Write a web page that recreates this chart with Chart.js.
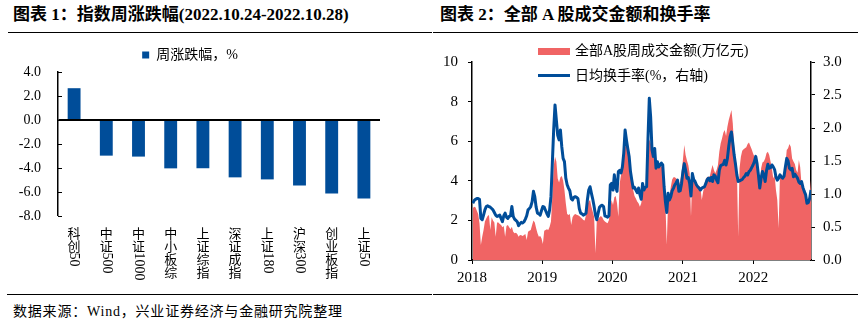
<!DOCTYPE html>
<html>
<head>
<meta charset="utf-8">
<script src="https://cdn.jsdelivr.net/npm/chart.js@4.4.0/dist/chart.umd.min.js"></script>
<style>
  body{margin:0;width:866px;height:322px;position:relative;overflow:hidden;background:#fff;
       font-family:'Liberation Serif','Noto Sans CJK SC',serif;color:#000}
  .title{position:absolute;top:5px;font-size:17px;font-weight:bold;line-height:20px;white-space:nowrap}
  .rule{position:absolute;height:0;border-top:1.5px solid #000}
  .box{position:absolute;top:36px;width:433px;height:256px}
  .lg{position:absolute;font-size:14px;line-height:16px;white-space:nowrap}
  .sw{position:absolute}
  .src{position:absolute;left:13px;top:300px;font-size:14px;letter-spacing:0.8px;white-space:nowrap}
</style>
</head>
<body>
<div class="title" style="left:13px">图表 1：指数周涨跌幅(2022.10.24-2022.10.28)</div>
<div class="title" style="left:440px">图表 2：全部 A 股成交金额和换手率</div>
<div class="rule" style="left:8px;width:424px;top:32px"></div>
<div class="rule" style="left:433px;width:425px;top:32px"></div>

<div class="box" style="left:0"><canvas id="left" width="433" height="256"></canvas></div>
<div class="box" style="left:433px"><canvas id="right" width="433" height="256"></canvas></div>

<div class="sw" style="left:538px;top:48px;width:32px;height:7px;background:#F06464"></div>
<div class="lg" style="left:575px;top:43px">全部A股周成交金额(万亿元)</div>
<div class="sw" style="left:538px;top:74px;width:32px;height:3px;background:#004D99"></div>
<div class="lg" style="left:575px;top:68px">日均换手率(%，右轴)</div>

<div class="rule" style="left:7px;width:425px;top:294px"></div>
<div class="rule" style="left:433px;width:425px;top:294px"></div>
<div class="src">数据来源：Wind，兴业证券经济与金融研究院整理</div>

<script>
// ---- chart 1 data
const indexNames = ['科创50','中证500','中证1000','中小板综','上证综指','深证成指','上证180','沪深300','创业板指','上证50'];
const weeklyChange = [2.65,-2.97,-3.05,-4.03,-4.02,-4.78,-4.95,-5.45,-6.12,-6.55];
const changeTicks = [-8,-6,-4,-2,0,2,4];

// ---- chart 2 data (weekly, first week ends 2018-01-05)
const firstWeek = Date.UTC(2018,0,5);
const amount = [ // 全部A股周成交金额, 万亿元
  2.61,2.69,2.66,2.49,2.32,1.85,0.76,1.18,1.52,1.94,2.10,2.22,2.27,
  1.52,2.16,1.99,1.89,1.18,1.89,1.89,1.82,1.77,1.65,1.72,1.18,1.72,
  1.77,1.65,1.55,1.68,1.43,1.35,1.38,1.31,1.18,1.26,1.25,1.21,1.26,
  1.31,1.01,1.43,1.48,1.52,1.77,1.99,1.89,1.60,1.35,1.18,1.21,1.09,
  0.81,1.48,1.52,1.55,1.52,1.68,1.94,3.20,4.71,5.22,4.97,4.12,3.91,
  4.18,4.24,4.01,3.53,2.86,2.32,2.27,2.32,1.77,2.16,2.27,2.32,2.29,
  2.26,2.22,2.16,2.10,2.02,1.99,2.27,2.78,2.95,3.03,2.69,2.44,2.19,
  0.34,1.99,2.05,2.16,2.22,2.16,2.02,1.94,1.89,1.85,2.02,2.61,3.03,
  2.78,3.17,3.23,2.86,2.19,3.87,4.29,4.71,5.22,5.72,5.86,5.47,5.05,
  4.46,4.12,3.53,3.23,3.11,2.95,2.86,2.69,2.86,3.37,3.53,3.62,3.70,
  5.22,6.10,5.90,5.64,5.39,5.22,4.68,4.88,4.85,4.80,4.75,4.63,3.53,
  2.78,0.76,3.03,3.20,3.70,4.07,4.18,4.18,4.12,4.04,3.84,3.96,4.38,
  5.05,5.81,5.30,5.02,4.80,4.38,2.19,4.46,4.21,4.04,3.87,3.79,3.74,
  3.67,3.03,3.45,3.79,4.07,4.21,4.18,4.24,4.55,4.80,4.55,4.38,4.55,
  4.80,5.47,5.89,6.14,6.43,6.57,6.26,6.73,7.07,7.32,7.58,6.90,5.72,
  5.05,4.80,1.18,4.63,5.22,5.52,5.59,5.64,5.69,5.86,5.93,5.76,5.59,
  5.39,5.22,4.97,4.75,4.55,3.53,4.63,4.92,4.97,5.13,5.39,5.47,5.30,
  4.97,4.63,4.12,4.29,3.53,3.03,1.60,4.38,4.18,4.07,4.18,4.80,5.55,
  5.64,5.86,5.72,5.13,4.97,4.85,4.55,4.41,5.05,4.68,3.79,3.53,3.37,
  3.20,3.03,3.11,3.23,4.04
];
const turnover = [ // 日均换手率, %
  0.86,0.90,0.92,0.93,0.93,0.92,0.63,0.61,0.68,0.76,0.81,0.82,0.81,
  0.80,0.78,0.76,0.72,0.68,0.66,0.67,0.68,0.63,0.58,0.67,0.71,0.65,
  0.63,0.66,0.67,0.81,0.66,0.62,0.60,0.58,0.52,0.55,0.57,0.56,0.58,
  0.62,0.67,0.76,0.78,0.81,0.88,1.04,0.96,0.80,0.71,0.70,0.68,0.75,
  0.81,0.80,0.75,0.70,0.66,0.76,0.96,1.46,1.97,2.35,2.12,1.89,1.82,
  1.97,1.72,1.54,1.49,1.24,1.14,1.09,1.05,0.93,0.91,0.95,0.96,0.95,
  0.93,0.78,0.71,0.70,0.68,0.69,0.71,0.91,1.06,1.11,1.01,0.92,0.81,
  0.68,0.61,0.71,0.80,0.82,0.83,0.81,0.67,0.66,0.65,0.67,1.14,1.16,
  1.06,1.29,1.11,1.04,1.34,1.36,1.32,1.41,1.62,1.97,1.82,1.69,1.57,
  1.34,1.21,1.09,1.10,1.06,1.02,1.09,0.99,0.92,1.16,1.06,1.10,1.11,
  1.82,2.45,2.17,1.67,1.57,1.69,1.39,1.49,1.41,1.44,1.47,1.44,1.11,
  0.88,0.72,1.01,0.91,0.96,1.05,1.09,1.14,1.17,1.21,1.04,1.05,1.16,
  1.34,1.46,1.36,1.24,1.25,1.16,0.97,1.31,1.22,1.19,1.14,1.11,1.09,
  1.06,1.09,1.10,1.11,1.16,1.22,1.24,1.20,1.25,1.19,1.29,1.27,1.21,
  1.17,1.36,1.43,1.44,1.45,1.51,1.44,1.54,1.72,1.87,1.94,1.77,1.59,
  1.45,1.29,1.19,1.20,1.21,1.22,1.25,1.27,1.31,1.29,1.34,1.36,1.40,
  1.44,1.49,1.57,1.46,1.29,1.09,1.24,1.34,1.29,1.19,1.35,1.45,1.39,
  1.40,1.44,1.41,1.37,1.26,1.21,1.24,1.29,1.26,1.24,1.27,1.41,1.54,
  1.50,1.39,1.37,1.39,1.26,1.30,1.27,1.24,1.18,1.16,1.19,1.10,1.04,
  0.99,0.86,0.87,0.93,1.06
];
const yearTicks = [2018,2019,2020,2021,2022];
const amountTicks = [0,2,4,6,8,10];
const turnoverTicks = [0,0.5,1,1.5,2,2.5,3];

const SERIF = "'Liberation Serif', 'Noto Sans CJK SC', serif";
const BLUE = '#004D99';
const RED = '#F06464';

// week index -> decimal year for the linear x axis
function weekToYear(i){
  const t = firstWeek + i*7*864e5;
  const y = new Date(t).getUTCFullYear();
  const y0 = Date.UTC(y,0,1), y1 = Date.UTC(y+1,0,1);
  return y + (t - y0)/(y1 - y0);
}

// vertical category labels: CJK chars stacked, digit runs rotated
const verticalLabels = {
  id: 'verticalLabels',
  afterDraw(chart){
    const {ctx} = chart;
    const x = chart.scales.x;
    ctx.save();
    ctx.fillStyle = '#000';
    chart.data.labels.forEach((label, i) => {
      const cx = x.getPixelForTick(i);
      let y = x.top + 11;
      for(const part of label.match(/\d+|./g)){
        if(/\d/.test(part)){
          ctx.font = "14px 'Liberation Serif'";
          ctx.save();
          ctx.translate(cx, y);
          ctx.rotate(Math.PI/2);
          ctx.textAlign = 'left';
          ctx.textBaseline = 'middle';
          ctx.fillText(part, 0, 0);
          ctx.restore();
          y += ctx.measureText(part).width;
        }else{
          ctx.font = "13px 'Noto Sans CJK SC'";
          ctx.textAlign = 'center';
          ctx.textBaseline = 'top';
          ctx.fillText(part, cx, y);
          y += 12.7;
        }
      }
    });
    ctx.restore();
  }
};

// small inside tick marks on the left value axis
const innerTicks = {
  id: 'innerTicks',
  afterDraw(chart){
    const {ctx} = chart;
    const y = chart.scales.y;
    ctx.save();
    ctx.strokeStyle = '#000';
    ctx.lineWidth = 1;
    y.ticks.forEach((t, i) => {
      const py = Math.round(y.getPixelForTick(i)) + 0.5;
      ctx.beginPath();
      ctx.moveTo(y.right, py);
      ctx.lineTo(y.right + 4, py);
      ctx.stroke();
    });
    ctx.restore();
  }
};

new Chart(document.getElementById('left'), {
  type: 'bar',
  data: {
    labels: indexNames,
    datasets: [{
      label: '周涨跌幅，%',
      data: weeklyChange,
      backgroundColor: BLUE,
      barPercentage: 0.4,
      categoryPercentage: 1
    }]
  },
  options: {
    responsive: false,
    animation: false,
    devicePixelRatio: 1,
    layout: { padding: { top: 2, right: 53, left: 0, bottom: 0 } },
    plugins: {
      legend: {
        position: 'top',
        labels: { boxWidth: 7, boxHeight: 7, color: '#000', font: { family: SERIF, size: 14 } }
      },
      tooltip: { enabled: false }
    },
    scales: {
      x: {
        grid: { display: false },
        border: { display: false },
        ticks: { display: false },
        afterFit(s){ s.height = 76; }
      },
      y: {
        min: -8, max: 4,
        afterBuildTicks(s){ s.ticks = changeTicks.map(v => ({ value: v })); },
        afterFit(s){ s.width = 58; },
        border: { display: true, color: '#000', width: 1.5 },
        grid: {
          drawTicks: false,
          color: c => c.tick && c.tick.value === 0 ? '#000' : 'rgba(0,0,0,0)',
          lineWidth: c => c.tick && c.tick.value === 0 ? 2 : 0
        },
        ticks: {
          padding: 17,
          color: '#000',
          font: { family: SERIF, size: 14 },
          callback: v => v.toFixed(1)
        }
      }
    }
  },
  plugins: [verticalLabels, innerTicks]
});

const xMax = weekToYear(amount.length - 1);

new Chart(document.getElementById('right'), {
  type: 'line',
  data: {
    datasets: [
      {
        label: '日均换手率(%，右轴)',
        data: turnover.map((v, i) => ({ x: weekToYear(i), y: v })),
        yAxisID: 'y1',
        borderColor: BLUE,
        borderWidth: 3,
        borderJoinStyle: 'round',
        pointRadius: 0,
        tension: 0,
        fill: false
      },
      {
        label: '全部A股周成交金额(万亿元)',
        data: amount.map((v, i) => ({ x: weekToYear(i), y: v })),
        yAxisID: 'y',
        borderWidth: 0,
        backgroundColor: RED,
        pointRadius: 0,
        tension: 0,
        fill: 'origin'
      }
    ]
  },
  options: {
    responsive: false,
    animation: false,
    devicePixelRatio: 1,
    layout: { padding: { top: 26, right: 0, left: 0, bottom: 0 } },
    plugins: { legend: { display: false }, tooltip: { enabled: false } },
    scales: {
      x: {
        type: 'linear',
        min: 2018, max: xMax,
        afterBuildTicks(s){ s.ticks = yearTicks.map(v => ({ value: v })); },
        afterFit(s){ s.height = 32; },
        border: { display: true, color: '#000', width: 1.5 },
        grid: { drawOnChartArea: false, drawTicks: true, tickLength: 4, color: '#000' },
        ticks: { padding: 5, color: '#000', font: { family: SERIF, size: 15 }, maxRotation: 0, callback: v => String(v) }
      },
      y: {
        position: 'left',
        min: 0, max: 10,
        afterBuildTicks(s){ s.ticks = amountTicks.map(v => ({ value: v })); },
        afterFit(s){ s.width = 39; },
        border: { display: true, color: '#000', width: 1.5 },
        grid: { drawOnChartArea: false, drawTicks: true, tickLength: 4, color: '#000' },
        ticks: { padding: 10, color: '#000', font: { family: SERIF, size: 15 } }
      },
      y1: {
        position: 'right',
        min: 0, max: 3,
        afterBuildTicks(s){ s.ticks = turnoverTicks.map(v => ({ value: v })); },
        afterFit(s){ s.width = 55; },
        border: { display: true, color: '#000', width: 1.5 },
        grid: { drawOnChartArea: false, drawTicks: true, tickLength: 4, color: '#000' },
        ticks: { padding: 8, color: '#000', font: { family: SERIF, size: 15 }, callback: v => v.toFixed(1) }
      }
    }
  }
});
</script>
</body>
</html>
